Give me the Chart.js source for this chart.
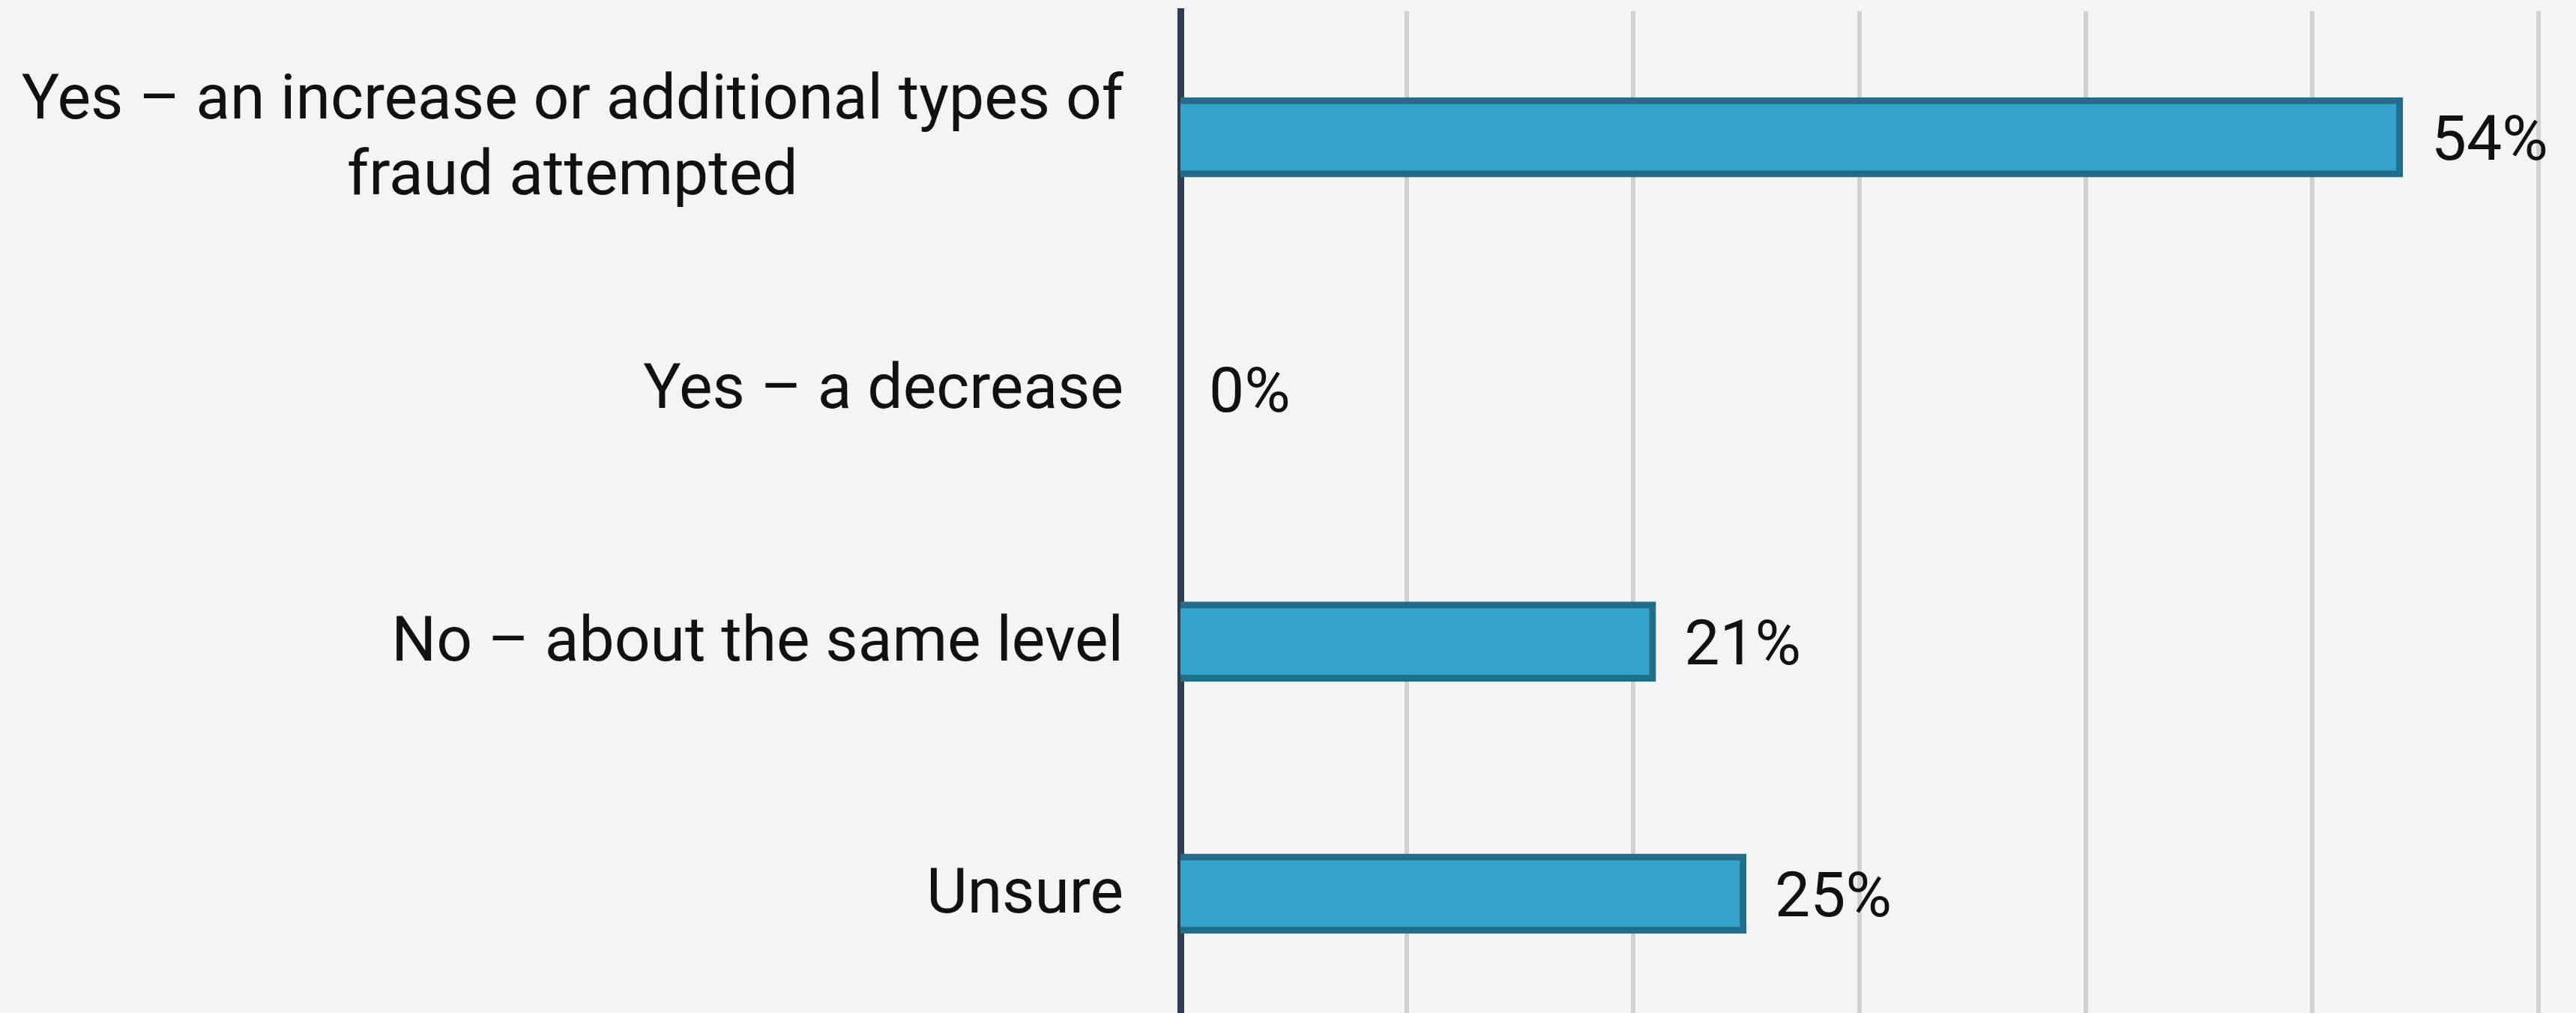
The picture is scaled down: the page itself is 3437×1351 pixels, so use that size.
<!DOCTYPE html>
<html>
<head>
<meta charset="utf-8">
<script src="https://cdn.jsdelivr.net/npm/chart.js@4/dist/chart.umd.min.js"></script>
<style>
  html, body { margin: 0; padding: 0; background: #f4f4f4; overflow: hidden; }
  canvas { display: block; }
</style>
</head>
<body>
<canvas id="fraud-chart" width="3437" height="1360"></canvas>
<script>
const categories = [
  ['Yes – an increase or additional types of', 'fraud attempted'],
  'Yes – a decrease',
  'No – about the same level',
  'Unsure'
];
const shares = [54, 0, 21, 25];
const axisMax = 60;
const axisStep = 10;

const FONT = '84px Roboto';
const TEXT_COLOR = '#111111';

// percent labels to the right of each bar
const valueLabels = {
  id: 'valueLabels',
  afterDatasetsDraw(chart) {
    const { ctx } = chart;
    const meta = chart.getDatasetMeta(0);
    ctx.save();
    ctx.font = FONT;
    ctx.fillStyle = TEXT_COLOR;
    ctx.textAlign = 'left';
    ctx.textBaseline = 'alphabetic';
    meta.data.forEach((bar, i) => {
      ctx.fillText(shares[i] + '%', bar.x + 38, bar.y + 30);
    });
    ctx.restore();
  }
};

// category names, multi-line ones centred inside their own block
const categoryLabels = {
  id: 'categoryLabels',
  afterDraw(chart) {
    const { ctx, scales: { y } } = chart;
    const right = y.right - 76;
    const lineH = 101;
    ctx.save();
    ctx.font = FONT;
    ctx.fillStyle = TEXT_COLOR;
    ctx.textAlign = 'center';
    ctx.textBaseline = 'alphabetic';
    categories.forEach((label, i) => {
      const lines = Array.isArray(label) ? label : [label];
      const w = Math.max(...lines.map(l => ctx.measureText(l).width));
      const cx = right - w / 2;
      const cy = y.getPixelForValue(i);
      lines.forEach((line, k) => {
        ctx.fillText(line, cx, cy + 25 + (k - (lines.length - 1) / 2) * lineH);
      });
    });
    ctx.restore();
  }
};

const data = {
  labels: categories,
  datasets: [{
    data: shares,
    backgroundColor: '#35a2cc',
    borderColor: '#226e8a',
    borderWidth: 9,
    barThickness: 106
  }]
};

const config = {
  type: 'bar',
  data: data,
  options: {
    indexAxis: 'y',
    responsive: false,
    animation: false,
    devicePixelRatio: 1,
    layout: {
      padding: { top: 15, right: 50, bottom: 0, left: 0 }
    },
    plugins: {
      legend: { display: false },
      tooltip: { enabled: false }
    },
    scales: {
      x: {
        min: 0,
        max: axisMax,
        grid: {
          color: '#d0d0d0',
          lineWidth: ctx => (ctx.tick && ctx.tick.value === 0 ? 0 : 6),
          drawTicks: false
        },
        border: { display: false },
        ticks: { display: false, stepSize: axisStep }
      },
      y: {
        z: 1,
        grid: { display: false, drawTicks: false },
        border: { display: true, color: '#2c3e50', width: 9 },
        ticks: { display: false },
        afterFit(scale) {
          scale.width = 1575;
        }
      }
    }
  },
  plugins: [valueLabels, categoryLabels]
};

const fraudChart = new Chart(document.getElementById('fraud-chart'), config);
</script>
</body>
</html>
